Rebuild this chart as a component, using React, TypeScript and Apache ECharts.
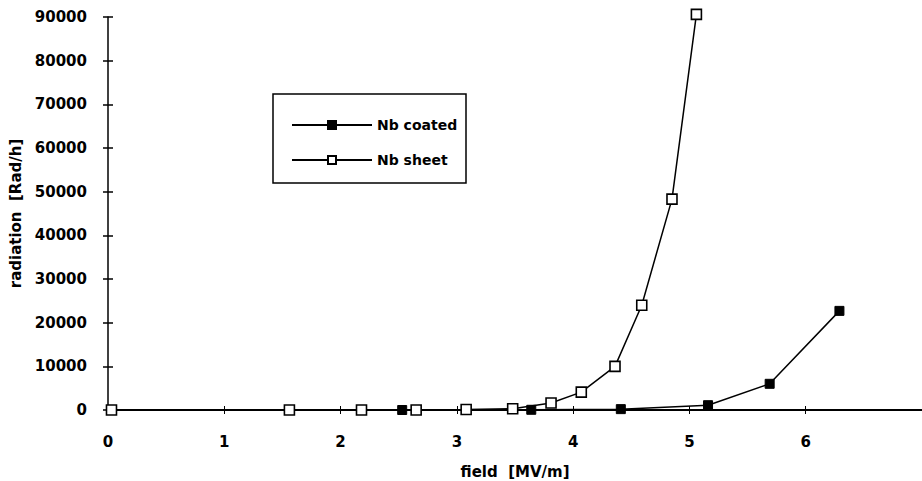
import React, { useEffect, useRef } from "react";
import * as echarts from "echarts";

const coatedField = [2.53, 3.64, 4.41, 5.16, 5.69, 6.29];
const coatedRadiation = [0, 50, 200, 1100, 6000, 22700];

const sheetField = [0.03, 1.56, 2.18, 2.65, 3.08, 3.48, 3.81, 4.07, 4.36, 4.59, 4.85, 5.06];
const sheetRadiation = [0, 0, 0, 0, 100, 300, 1600, 4100, 10000, 24000, 48300, 90600];

const xTicks = [0, 1, 2, 3, 4, 5, 6, 7];
const yTicks = [0, 10000, 20000, 30000, 40000, 50000, 60000, 70000, 80000, 90000];

const FONT = "'DejaVu Sans', sans-serif";

export default function App() {
  const ref = useRef<HTMLDivElement>(null);
  useEffect(() => {
    if (!ref.current) return;
    const chart = echarts.init(ref.current, null, { renderer: "svg" });
    const xMin = xTicks[0];
    const xMax = xTicks[xTicks.length - 1];
    const yMin = yTicks[0];
    const yMax = yTicks[yTicks.length - 1];
    const xInt = xTicks[1] - xTicks[0];
    const yInt = yTicks[1] - yTicks[0];
    const labelStyle = { color: "#000", fontFamily: FONT, fontWeight: "bold" as const, fontSize: 15 };
    chart.setOption({
      animation: false,
      backgroundColor: "#fff",
      grid: { left: 108, right: -2, top: 17, bottom: 71, containLabel: false },
      xAxis: [
        {
          type: "value", min: xMin, max: xMax, interval: xInt,
          axisLine: { show: true, lineStyle: { color: "#000", width: 2 } },
          axisTick: { show: true, length: 4, lineStyle: { color: "#000", width: 1 } },
          axisLabel: { ...labelStyle, margin: 24, showMaxLabel: false, formatter: (v: number) => String(v) },
          splitLine: { show: false },
        },
        {
          type: "value", min: xMin, max: xMax, interval: xInt, position: "bottom",
          axisLine: { show: false },
          axisTick: { show: true, inside: true, length: 4, lineStyle: { color: "#000", width: 1 } },
          axisLabel: { show: false },
          splitLine: { show: false },
        },
      ],
      yAxis: [
        {
          type: "value", min: yMin, max: yMax, interval: yInt,
          axisLine: { show: true, lineStyle: { color: "#000", width: 1.5 } },
          axisTick: { show: true, length: 5, lineStyle: { color: "#000", width: 1.5 } },
          axisLabel: { ...labelStyle, margin: 21, formatter: (v: number) => String(v) },
          splitLine: { show: false },
          name: "radiation  [Rad/h]",
          nameLocation: "middle",
          nameGap: 77,
          nameTextStyle: { color: "#000", fontFamily: FONT, fontWeight: "bold", fontSize: 15 },
        },
        {
          type: "value", min: yMin, max: yMax, interval: yInt, position: "left",
          axisLine: { show: false },
          axisTick: { show: true, inside: true, length: 5, lineStyle: { color: "#000", width: 1.5 } },
          axisLabel: { show: false },
          splitLine: { show: false },
        },
      ],
      legend: {
        orient: "vertical",
        left: 286,
        top: 113,
        itemWidth: 80,
        itemHeight: 10,
        itemGap: 21,
        textStyle: { color: "#000", fontFamily: FONT, fontWeight: "bold", fontSize: 14 },
        data: ["Nb coated", "Nb sheet"],
      },
      graphic: [
        {
          type: "rect",
          shape: { x: 273, y: 94, width: 193, height: 89 },
          style: { fill: "none", stroke: "#000", lineWidth: 1.5 },
          z: 100,
        },
        {
          type: "text",
          x: 515,
          y: 472,
          style: {
            text: "field  [MV/m]",
            fill: "#000",
            font: `bold 15px ${FONT}`,
            align: "center",
            verticalAlign: "middle",
          },
        },
      ],
      series: [
        {
          name: "Nb coated",
          type: "line",
          xAxisIndex: 0,
          yAxisIndex: 0,
          data: coatedField.map((x, i) => [x, coatedRadiation[i]]),
          symbol: "rect",
          symbolSize: 9,
          clip: false,
          lineStyle: { color: "#000", width: 1.5 },
          itemStyle: { color: "#000", borderColor: "#000", borderWidth: 1 },
          z: 3,
        },
        {
          name: "Nb sheet",
          type: "line",
          xAxisIndex: 0,
          yAxisIndex: 0,
          data: sheetField.map((x, i) => [x, sheetRadiation[i]]),
          symbol: "rect",
          symbolSize: 10,
          showAllSymbol: true,
          clip: false,
          lineStyle: { color: "#000", width: 1.5 },
          itemStyle: { color: "#fff", borderColor: "#000", borderWidth: 1.6 },
          z: 4,
        },
      ],
    });
    return () => chart.dispose();
  }, []);
  return <div ref={ref} style={{ width: 922, height: 481, position: "absolute", left: 0, top: 0 }} />;
}
